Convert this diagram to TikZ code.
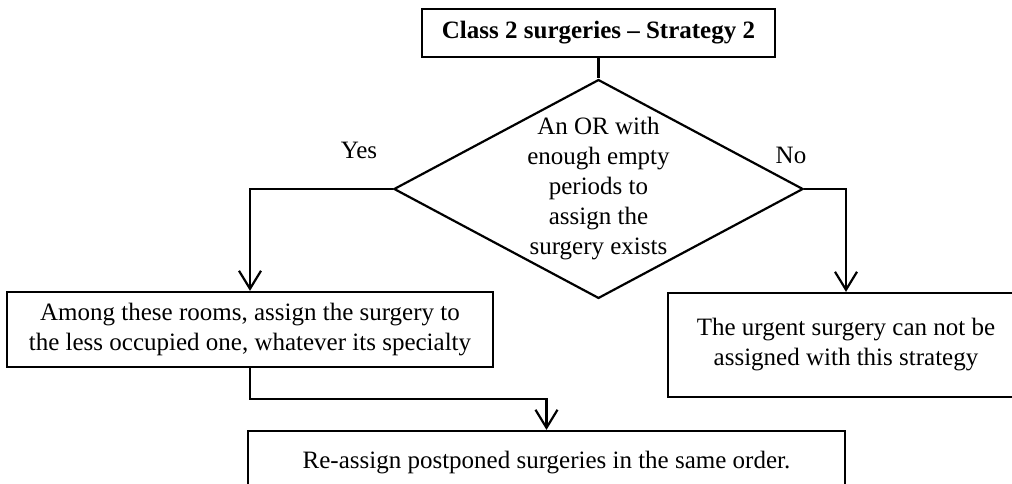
\documentclass[tikz,border=0pt]{standalone}
\usepackage{fontspec}
\setmainfont{Liberation Serif}
\usetikzlibrary{shapes.geometric,arrows.meta}

\begin{document}
\begin{tikzpicture}[x=1pt,y=1pt,line width=2.2pt,
  every node/.style={font=\fontsize{25}{30}\selectfont},
  box/.style={draw,rectangle,inner sep=0pt,align=center},
  decision/.style={draw,diamond,aspect=1.87,inner sep=0pt,align=center,
                   minimum width=405,minimum height=212},
  arr/.style={-{Straight Barb[length=18pt,width=22pt,line width=2.2pt]}}]
\clip (0,0) rectangle (1012,484);
\node[box,minimum width=353,minimum height=48] (title) at (598.5,451)
  {\bfseries Class 2 surgeries -- Strategy 2};
\node[decision] (test) at (598.5,295)
  {An OR with\\enough empty\\periods to\\assign the\\surgery exists};
\node[box,minimum width=486,minimum height=75] (yesbox) at (250,154.5)
  {Among these rooms, assign the surgery to\\the less occupied one, whatever its specialty};
\node[box,minimum width=356,minimum height=104] (nobox) at (846,139)
  {The urgent surgery can not be\\assigned with this strategy};
\node[box,minimum width=597,minimum height=64] (reassign) at (546.5,21)
  {Re-assign postponed surgeries in the same order.};
\node (yes) at (359,334) {Yes};
\node (no) at (791,329) {No};
\draw (title) -- (test);
\draw[arr] (test.west) -| (yesbox.north);
\draw[arr] (test.east) -| (nobox.north);
\draw[arr] (yesbox.south) -- ++(0,-31) -| (reassign.north);
\end{tikzpicture}
\end{document}
